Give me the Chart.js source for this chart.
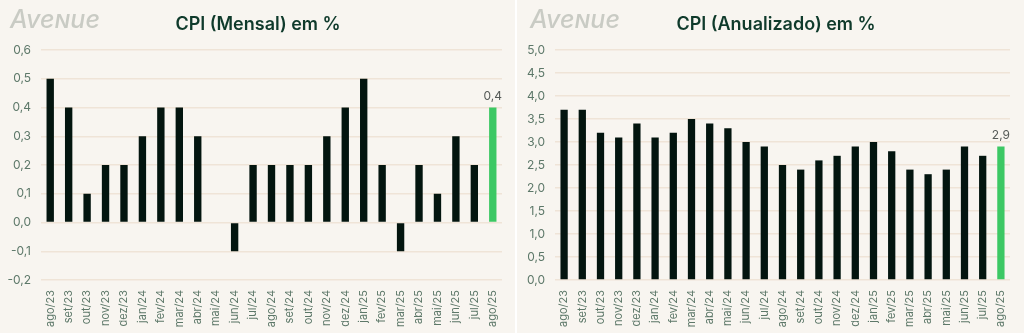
<!DOCTYPE html>
<html>
<head>
<meta charset="utf-8">
<script src="https://cdn.jsdelivr.net/npm/chart.js@4.4.1/dist/chart.umd.min.js"></script>
<style>
  html, body { margin: 0; padding: 0; background: #ffffff; }
  .panel { position: absolute; top: 0; height: 333px; background: #f8f5f0; }
  #p1 { left: 0; width: 515px; }
  #p2 { left: 517px; width: 507px; }
  canvas { display: block; }
</style>
</head>
<body>
<div class="panel" id="p1"><canvas id="mensal" width="515" height="333"></canvas></div>
<div class="panel" id="p2"><canvas id="anual" width="507" height="333"></canvas></div>
<script>
// DATA
const meses = ['ago/23', 'set/23', 'out/23', 'nov/23', 'dez/23', 'jan/24', 'fev/24', 'mar/24',
  'abr/24', 'mai/24', 'jun/24', 'jul/24', 'ago/24', 'set/24', 'out/24', 'nov/24', 'dez/24',
  'jan/25', 'fev/25', 'mar/25', 'abr/25', 'mai/25', 'jun/25', 'jul/25', 'ago/25'];

const cpiMensal = [0.5, 0.4, 0.1, 0.2, 0.2, 0.3, 0.4, 0.4, 0.3, 0.0, -0.1, 0.2, 0.2, 0.2, 0.2,
  0.3, 0.4, 0.5, 0.2, -0.1, 0.2, 0.1, 0.3, 0.2, 0.4];

const cpiAnual = [3.7, 3.7, 3.2, 3.1, 3.4, 3.1, 3.2, 3.5, 3.4, 3.3, 3.0, 2.9, 2.5, 2.4, 2.6,
  2.7, 2.9, 3.0, 2.8, 2.4, 2.3, 2.4, 2.9, 2.7, 2.9];

const eixoMensal = [-0.2, 0.6, 0.1];   // min, max, step
const eixoAnual = [0, 5, 0.5];

const corBarra = '#03150f';
const corDestaque = '#3cc864';
const corGrade = '#efe4d7';
const corTexto = '#5d7869';

const fmt = v => Number(v).toFixed(1).replace('.', ',');

// header: logo + title
const headerPlugin = {
  id: 'header',
  afterDraw(chart, args, opts) {
    const ctx = chart.ctx;
    ctx.save();
    ctx.fillStyle = '#c9cbc4';
    ctx.font = 'italic small-caps 500 25px Inter';
    ctx.textAlign = 'left';
    ctx.textBaseline = 'alphabetic';
    ctx.fillText('Avenue', opts.logoX, 28);
    ctx.fillStyle = '#0f3a2b';
    ctx.font = '600 18px Inter';
    ctx.textAlign = 'center';
    ctx.fillText(opts.title, opts.titleX, 30);
    ctx.restore();
  }
};

// label above last bar
const lastLabelPlugin = {
  id: 'lastLabel',
  afterDatasetsDraw(chart) {
    const meta = chart.getDatasetMeta(0);
    const i = meta.data.length - 1;
    const bar = meta.data[i];
    const ctx = chart.ctx;
    ctx.save();
    ctx.fillStyle = '#555a57';
    ctx.font = '12px Inter';
    ctx.textAlign = 'center';
    ctx.textBaseline = 'bottom';
    ctx.fillText(fmt(chart.data.datasets[0].data[i]), bar.x, bar.y - 5);
    ctx.restore();
  }
};

function makeChart(id, values, eixo, title, titleX, logoX, yWidth, rightPad) {
  const cores = values.map((v, i) => i === values.length - 1 ? corDestaque : corBarra);
  return new Chart(document.getElementById(id).getContext('2d'), {
    type: 'bar',
    data: {
      labels: meses,
      datasets: [{
        data: values,
        backgroundColor: cores,
        borderWidth: 0,
        barPercentage: 0.4,
        categoryPercentage: 1
      }]
    },
    options: {
      responsive: false,
      animation: false,
      layout: { padding: { top: 50, right: rightPad, left: 0, bottom: 0 } },
      plugins: {
        legend: { display: false },
        tooltip: { enabled: false },
        header: { title: title, titleX: titleX, logoX: logoX }
      },
      scales: {
        x: {
          grid: { display: false },
          border: { display: false },
          ticks: {
            color: corTexto,
            font: { family: 'Inter', size: 11 },
            minRotation: 90,
            maxRotation: 90,
            autoSkip: false,
            padding: 2
          },
          afterFit(scale) { scale.height = 53; }
        },
        y: {
          min: eixo[0],
          max: eixo[1],
          grid: { color: corGrade, lineWidth: 1.5, drawTicks: false },
          border: { display: false },
          ticks: {
            stepSize: eixo[2],
            color: corTexto,
            font: { family: 'Inter', size: 12 },
            padding: 10,
            callback: v => fmt(v)
          },
          afterFit(scale) { scale.width = yWidth; }
        }
      }
    },
    plugins: [headerPlugin, lastLabelPlugin]
  });
}

makeChart('mensal', cpiMensal, eixoMensal, 'CPI (Mensal) em %', 258, 10, 41, 13);
makeChart('anual', cpiAnual, eixoAnual, 'CPI (Anualizado) em %', 259, 13, 38, 14);
</script>
</body>
</html>
